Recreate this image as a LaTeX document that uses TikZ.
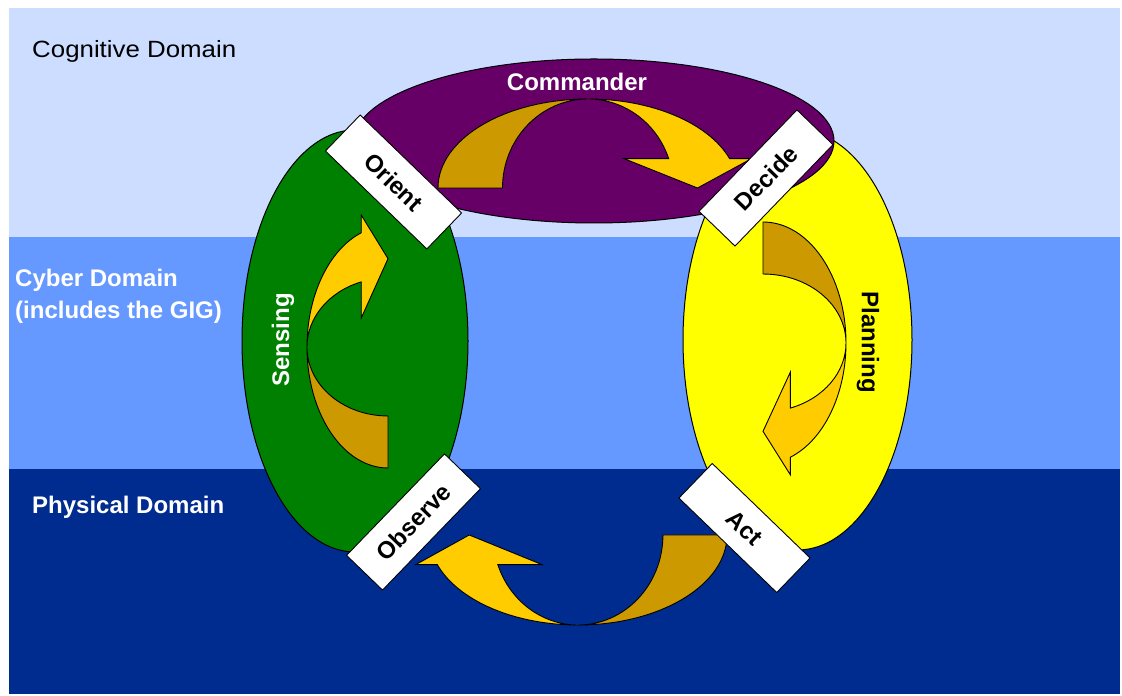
\documentclass[tikz,border=0pt]{standalone}
\usepackage{fontspec}
\setmainfont{Liberation Sans}
\definecolor{cogbg}{RGB}{204,221,255}
\definecolor{cybbg}{RGB}{102,153,255}
\definecolor{phybg}{RGB}{0,43,143}
\definecolor{grn}{RGB}{0,128,0}
\definecolor{ylw}{RGB}{255,255,0}
\definecolor{prp}{RGB}{102,0,102}
\definecolor{gdark}{RGB}{204,153,0}
\definecolor{glight}{RGB}{255,204,0}
\tikzset{
  arrowline/.style={draw=black, line width=0.9pt, line join=miter},
  domainbox/.style={draw=black, line width=1pt},
  labelbox/.style={draw=black, line width=0.9pt, fill=white, minimum width=141pt, minimum height=50pt, inner sep=0pt, font=\fontsize{24}{28}\bfseries\selectfont, text=black},
  boldtext/.style={inner sep=0pt, font=\fontsize{24}{28}\bfseries\selectfont},
}
\newcommand{\curvedarrow}[5]{%
  \begin{scope}[shift={(#1,#2)}, rotate=#3, xscale=#4, yscale=#5]
    \draw[arrowline, fill=gdark] (-1,0) arc[start angle=180, end angle=90, x radius=1, y radius=1]
      arc[start angle=90, end angle=180, x radius=0.57, y radius=1] -- cycle;
    \draw[arrowline, fill=glight] (0,1) arc[start angle=90, end angle=19.27, x radius=1, y radius=1]
      -- (1.09,0.33) -- (0.73,0) -- (0.24,0.33) -- (0.538,0.33)
      arc[start angle=19.27, end angle=90, x radius=0.57, y radius=1] -- cycle;
  \end{scope}}
\begin{document}
\begin{tikzpicture}[x=1pt, y=1pt]
  \useasboundingbox (0,0) rectangle (1122,696);
  \fill[white] (0,0) rectangle (1122,696);
  % domain bands
  \fill[cogbg] (9,688) rectangle (1120,459);
  \fill[cybbg] (9,459) rectangle (1120,227);
  \fill[phybg] (9,227) rectangle (1120,2);
  % ellipses
  \draw[domainbox, fill=grn] (355,355) ellipse [x radius=113, y radius=211];
  \draw[domainbox, fill=ylw] (797.5,356) ellipse [x radius=114.5, y radius=210];
  \draw[domainbox, fill=prp] (594,555) ellipse [x radius=240, y radius=82];
  % curved arrows
  \curvedarrow{588}{508}{0}{150}{89}
  \curvedarrow{388}{349}{90}{121}{81}
  \curvedarrow{763}{353}{-90}{121}{83}
  \curvedarrow{578}{161}{180}{149}{90}
  % label boxes
  \node[labelbox, rotate=-44] (orient) at (393.5,514) {Orient};
  \node[labelbox, rotate=46] (decide) at (766,518) {Decide};
  \node[labelbox, rotate=46] (observe) at (413.5,174) {Observe};
  \node[labelbox, rotate=-44, minimum width=136pt, minimum height=48pt] (act) at (744.5,168) {Act};
  % texts
  \node[boldtext, text=white] (commander) at (577,614) {Commander};
  \node[boldtext, text=white, rotate=90] (sensing) at (283,356) {Sensing};
  \node[boldtext, text=black, rotate=-90] (planning) at (868,354) {Planning};
  \node[inner sep=0pt, anchor=west, xscale=1.1, font=\fontsize{23.5}{28}\selectfont, text=black] (cognitive) at (32,645) {Cognitive Domain};
  \node[inner sep=0pt, anchor=west, align=left, text=white, font=\fontsize{24}{32}\bfseries\selectfont] (cyber) at (15,400) {Cyber Domain\\(includes the GIG)};
  \node[boldtext, text=white, anchor=west] (physical) at (32,189) {Physical Domain};
\end{tikzpicture}
\end{document}
